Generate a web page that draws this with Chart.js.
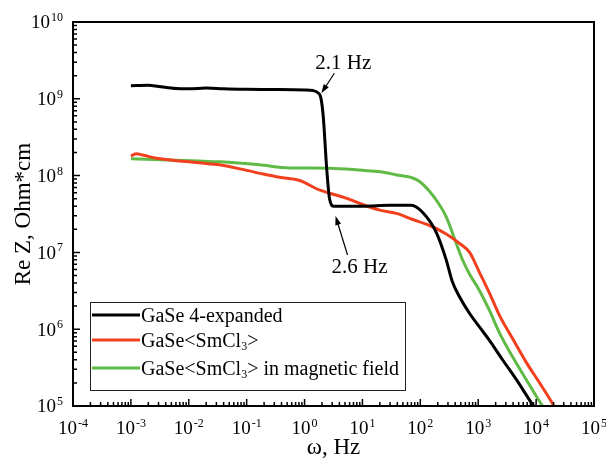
<!DOCTYPE html>
<html lang="en">
<head>
<meta charset="UTF-8" />
<title>Re Z vs frequency</title>
<script src="https://cdn.jsdelivr.net/npm/chart.js"></script>
<style>
  html, body { margin: 0; padding: 0; background: #fff; }
  .wrap { width: 606px; height: 463px; }
</style>
</head>
<body>
<div class="wrap"><canvas id="reChart"></canvas></div>
<script>
  // values (Hz, Ohm*cm)
  const blackFreq = [1e-3, 2e-3, 3e-3, 6e-3, 1e-2, 2e-2, 4e-2, 0.1, 0.3, 1.0, 1.4, 1.7, 1.9, 2.1, 2.4, 2.7, 3.2, 10, 30, 70, 110, 190, 280, 355, 480, 710, 1050, 1550, 2630, 4570, 8300, 9500];
  const blackReZ = [1.48e9, 1.50e9, 1.45e9, 1.36e9, 1.35e9, 1.38e9, 1.35e9, 1.33e9, 1.32e9, 1.30e9, 1.28e9, 1.2e9, 1.05e9, 6.0e8, 1.3e8, 5.0e7, 4.0e7, 4.0e7, 4.1e7, 4.1e7, 3.3e7, 1.8e7, 8.0e6, 4.2e6, 2.6e6, 1.6e6, 1.07e6, 7.2e5, 4.0e5, 2.2e5, 1.1e5, 0.95e5];

  const redFreq = [1e-3, 1.25e-3, 1.6e-3, 2.8e-3, 1.5e-2, 3.4e-2, 0.1, 0.17, 0.37, 0.8, 1.8, 2.7, 5.2, 10, 20, 40, 72, 145, 280, 470, 710, 1050, 1550, 2340, 3900, 6760, 11500, 18600, 21000];
  const redReZ = [1.8e8, 1.92e8, 1.85e8, 1.68e8, 1.47e8, 1.38e8, 1.17e8, 1.07e8, 9.5e7, 8.7e7, 6.5e7, 5.9e7, 5.1e7, 4.2e7, 3.55e7, 3.2e7, 2.7e7, 2.24e7, 1.74e7, 1.32e7, 1.0e7, 5.5e6, 3.0e6, 1.5e6, 7.6e5, 3.7e5, 2.0e5, 1.12e5, 0.95e5];

  const greenFreq = [1e-3, 1.5e-2, 0.034, 0.166, 0.55, 2.7, 10, 20, 39, 74, 98, 145, 200, 280, 427, 540, 710, 1050, 1550, 2340, 3900, 6760, 10200, 13500];
  const greenReZ = [1.66e8, 1.55e8, 1.51e8, 1.38e8, 1.26e8, 1.25e8, 1.17e8, 1.12e8, 1.02e8, 9.3e7, 8.3e7, 6.2e7, 4.5e7, 2.9e7, 1.25e7, 7.9e6, 5.2e6, 3.2e6, 1.78e6, 8.9e5, 4.4e5, 2.2e5, 1.32e5, 0.95e5];

  const seriesNames = ['GaSe 4-expanded', 'GaSe<SmCl_3>', 'GaSe<SmCl_3> in magnetic field'];
  const seriesColors = ['#000000', '#f2401f', '#5fbb46'];

  const xTickExp = [-4, -3, -2, -1, 0, 1, 2, 3, 4, 5];
  const yTickExp = [5, 6, 7, 8, 9, 10];

  const xTitle = 'ω, Hz';
  const yTitle = 'Re Z, Ohm*cm';

  // arrow tips in data units, text offsets in px
  const notes = [
    { text: '2.1 Hz', f: 1.95, v: 1.18e9, tail: [13, -20], label: [-6, -24] },
    { text: '2.6 Hz', f: 3.43, v: 2.98e7, tail: [12, 39], label: [-4, 57] }
  ];

  const FONT = '"Liberation Serif", "Times New Roman", serif';

  function toPoints(fs, vs) {
    return fs.map((f, i) => ({ x: f, y: vs[i] }));
  }

  function drawPow(ctx, exp, x, yMid, align) {
    const base = '10', sup = String(exp);
    ctx.font = '19px ' + FONT;
    const wb = ctx.measureText(base).width;
    ctx.font = '12px ' + FONT;
    const ws = ctx.measureText(sup).width;
    const w = wb + 1 + ws;
    const left = align === 'center' ? x - w / 2 : x - w;
    ctx.textAlign = 'left';
    ctx.textBaseline = 'alphabetic';
    ctx.font = '19px ' + FONT;
    ctx.fillText(base, left, yMid + 6.3);
    ctx.font = '12px ' + FONT;
    ctx.fillText(sup, left + wb + 1, yMid - 1);
  }

  // draws text where "_x" means subscript x
  function drawSubText(ctx, str, x, yMid, size) {
    const parts = str.split('_');
    let cx = x;
    ctx.textAlign = 'left';
    ctx.textBaseline = 'alphabetic';
    parts.forEach((p, i) => {
      let rest = p;
      if (i > 0) {
        ctx.font = Math.round(size * 0.62) + 'px ' + FONT;
        ctx.fillText(p[0], cx, yMid + 10);
        cx += ctx.measureText(p[0]).width;
        rest = p.slice(1);
      }
      ctx.font = size + 'px ' + FONT;
      ctx.fillText(rest, cx, yMid + 7);
      cx += ctx.measureText(rest).width;
    });
  }

  function arrow(ctx, x1, y1, x2, y2) {
    const ang = Math.atan2(y2 - y1, x2 - x1);
    ctx.beginPath();
    ctx.moveTo(x1, y1);
    ctx.lineTo(x2 - 6 * Math.cos(ang), y2 - 6 * Math.sin(ang));
    ctx.stroke();
    ctx.beginPath();
    ctx.moveTo(x2, y2);
    ctx.lineTo(x2 - 9 * Math.cos(ang) + 3 * Math.sin(ang), y2 - 9 * Math.sin(ang) - 3 * Math.cos(ang));
    ctx.lineTo(x2 - 9 * Math.cos(ang) - 3 * Math.sin(ang), y2 - 9 * Math.sin(ang) + 3 * Math.cos(ang));
    ctx.closePath();
    ctx.fill();
  }

  const decorPlugin = {
    id: 'decor',
    afterDraw(chart) {
      const { ctx, chartArea: a } = chart;
      const xs = chart.scales.x, ys = chart.scales.y;
      ctx.save();
      ctx.fillStyle = '#000';
      ctx.strokeStyle = '#000';

      // ticks, pointing inward
      ctx.lineWidth = 1.5;
      ctx.beginPath();
      const xLast = xTickExp[xTickExp.length - 1];
      xTickExp.forEach(e => {
        for (let k = 1; k < 10; k++) {
          if (k > 1 && e === xLast) break;
          const px = xs.getPixelForValue(k * Math.pow(10, e));
          const len = k === 1 ? 7 : 4;
          ctx.moveTo(px, a.bottom);
          ctx.lineTo(px, a.bottom - len);
        }
      });
      const yLast = yTickExp[yTickExp.length - 1];
      yTickExp.forEach(e => {
        for (let k = 1; k < 10; k++) {
          if (k > 1 && e === yLast) break;
          const py = ys.getPixelForValue(k * Math.pow(10, e));
          const len = k === 1 ? 7 : 4;
          ctx.moveTo(a.left, py);
          ctx.lineTo(a.left + len, py);
        }
      });
      ctx.stroke();

      // frame
      ctx.lineWidth = 2;
      ctx.strokeRect(a.left, a.top, a.right - a.left, a.bottom - a.top);

      // tick labels
      xTickExp.forEach(e => drawPow(ctx, e, xs.getPixelForValue(Math.pow(10, e)), a.bottom + 22, 'center'));
      yTickExp.forEach(e => drawPow(ctx, e, a.left - 10, ys.getPixelForValue(Math.pow(10, e)), 'right'));

      // axis titles
      ctx.font = '23px ' + FONT;
      ctx.textAlign = 'center';
      ctx.textBaseline = 'middle';
      ctx.fillText(xTitle, (a.left + a.right) / 2, 448);
      ctx.save();
      ctx.translate(24, (a.top + a.bottom) / 2);
      ctx.rotate(-Math.PI / 2);
      ctx.fillText(yTitle, 0, 0);
      ctx.restore();

      // legend box
      const bx = a.left + 17, by = a.bottom - 104, bw = 315, bh = 88;
      ctx.fillStyle = '#fff';
      ctx.fillRect(bx, by, bw, bh);
      ctx.lineWidth = 1;
      ctx.strokeStyle = '#222';
      ctx.strokeRect(bx + 0.5, by + 0.5, bw, bh);
      const rowY = [13, 38, 66];
      seriesNames.forEach((name, i) => {
        const yy = by + rowY[i];
        ctx.strokeStyle = seriesColors[i];
        ctx.lineWidth = 3;
        ctx.beginPath();
        ctx.moveTo(bx + 2, yy);
        ctx.lineTo(bx + 50, yy);
        ctx.stroke();
        ctx.fillStyle = '#000';
        drawSubText(ctx, name, bx + 51, yy, 20);
      });

      // annotations
      ctx.strokeStyle = '#000';
      ctx.fillStyle = '#000';
      ctx.lineWidth = 1.2;
      notes.forEach(n => {
        const tx = xs.getPixelForValue(n.f), ty = ys.getPixelForValue(n.v);
        arrow(ctx, tx + n.tail[0], ty + n.tail[1], tx, ty);
        ctx.font = '21px ' + FONT;
        ctx.textAlign = 'left';
        ctx.textBaseline = 'alphabetic';
        ctx.fillText(n.text, tx + n.label[0], ty + n.label[1]);
      });
      ctx.restore();
    }
  };

  const series = [
    toPoints(blackFreq, blackReZ),
    toPoints(redFreq, redReZ),
    toPoints(greenFreq, greenReZ)
  ];

  new Chart(document.getElementById('reChart').getContext('2d'), {
    type: 'line',
    data: {
      datasets: series.map((pts, i) => ({
        label: seriesNames[i],
        data: pts,
        borderColor: seriesColors[i],
        borderWidth: 3,
        pointRadius: 0,
        fill: false,
        cubicInterpolationMode: 'monotone'
      }))
    },
    options: {
      responsive: true,
      maintainAspectRatio: false,
      animation: false,
      layout: { padding: { left: 0, right: 12, top: 22, bottom: 0 } },
      plugins: { legend: { display: false }, tooltip: { enabled: false } },
      scales: {
        x: {
          type: 'logarithmic',
          min: 1e-4, max: 1e5,
          grid: { display: false },
          border: { display: false },
          ticks: { display: false },
          afterFit: s => { s.height = 57; }
        },
        y: {
          type: 'logarithmic',
          min: 1e5, max: 1e10,
          grid: { display: false },
          border: { display: false },
          ticks: { display: false },
          afterFit: s => { s.width = 73; }
        }
      }
    },
    plugins: [decorPlugin]
  });
</script>
</body>
</html>
